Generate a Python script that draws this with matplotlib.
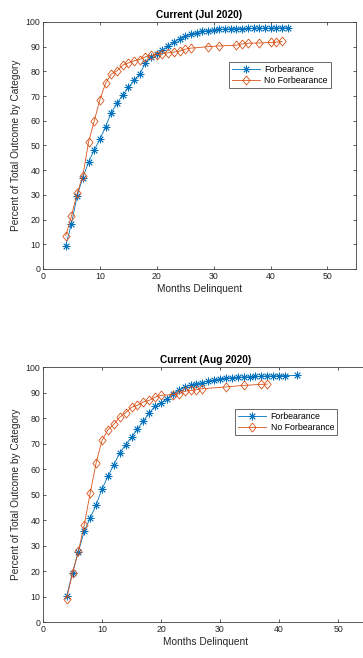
import matplotlib
matplotlib.use('Agg')
import matplotlib.pyplot as plt

plt.rcParams['font.family'] = ['Liberation Sans', 'DejaVu Sans']

# Jul 2020
jul_forb_x = list(range(4, 44))
jul_forb_y = [9.5, 18.3, 29.7, 37.0, 43.2, 48.2, 52.5, 57.6, 63.3, 67.0,
              70.4, 73.5, 76.4, 78.9, 83.4, 85.9, 87.2, 88.6, 90.2, 91.8,
              93.3, 94.2, 95.0, 95.7, 96.2, 96.5, 96.8, 97.0, 97.1, 97.2,
              97.3, 97.3, 97.4, 97.4, 97.5, 97.5, 97.5, 97.6, 97.6, 97.6]
jul_noforb_x = [4, 5, 6, 7, 8, 9, 10, 11, 12, 13, 14, 15, 16, 17, 18, 19, 20, 21,
                22, 23, 24, 25, 26, 29, 31, 34, 35, 36, 38, 40, 41, 42]
jul_noforb_y = [13.5, 21.5, 30.6, 37.8, 51.3, 59.9, 68.6, 75.1, 78.9, 80.2,
                82.5, 83.4, 84.3, 84.8, 85.9, 86.5, 86.8, 87.2, 87.5, 87.8,
                88.2, 89.0, 89.4, 90.0, 90.3, 90.6, 91.1, 91.4, 91.5, 91.7,
                91.8, 92.1]

# Aug 2020
aug_forb_x = list(range(4, 42)) + [43]
aug_forb_y = [10.1, 19.4, 27.6, 35.7, 40.8, 45.9, 52.2, 57.1, 61.7, 66.3,
              69.5, 72.5, 75.7, 78.8, 82.1, 84.6, 85.9, 87.6, 89.5, 90.8,
              92.2, 92.8, 93.2, 93.9, 94.4, 94.8, 95.4, 95.7, 95.8, 96.0,
              96.1, 96.2, 96.3, 96.4, 96.5, 96.5, 96.6, 96.6, 96.7]
aug_noforb_x = [4, 5, 6, 7, 8, 9, 10, 11, 12, 13, 14, 15, 16, 17, 18, 19, 20,
                22, 23, 24, 25, 26, 27, 31, 34, 37, 38]
aug_noforb_y = [9.2, 19.2, 27.8, 38.2, 50.7, 62.4, 71.2, 75.4, 77.5, 80.3,
                82.1, 84.2, 85.0, 86.3, 86.9, 88.2, 88.9, 89.2, 89.5, 90.5,
                90.8, 91.1, 91.5, 92.2, 92.8, 93.2, 93.3]

titles = ['Current (Jul 2020)', 'Current (Aug 2020)']
series_labels = ['Forbearance', 'No Forbearance']
blue = '#0072BD'
orange = '#D95319'
axis_color = '#404040'

# matlab-like diamond, a little taller than wide
diamond = [(0, 1), (0.8, 0), (0, -1), (-0.8, 0), (0, 1)]

fig = plt.figure(figsize=(3.63, 6.58), dpi=100)
ax_top = fig.add_axes([0.1185, 0.5912, 0.862, 0.3754])
ax_bot = fig.add_axes([0.1185, 0.0547, 0.894, 0.3875])

panels = [
    (ax_top, jul_forb_x, jul_forb_y, jul_noforb_x, jul_noforb_y, titles[0], (0.594, 0.838)),
    (ax_bot, aug_forb_x, aug_forb_y, aug_noforb_x, aug_noforb_y, titles[1], (0.592, 0.835)),
]

for ax, fx, fy, nx_, ny, title, leg_pos in panels:
    # matlab style asterisk marker
    ax.plot(fx, fy, color=blue, marker=(8, 2, 0), markersize=5.5, linewidth=0.6,
            markeredgewidth=0.6, label=series_labels[0])
    ax.plot(nx_, ny, color=orange, marker=diamond, markersize=6.5, linewidth=0.6,
            markerfacecolor='none', markeredgewidth=0.6, label=series_labels[1])
    ax.set_xlim(0, 55)
    ax.set_ylim(0, 100)
    ax.set_xticks(range(0, 51, 10))
    ax.set_yticks(range(0, 101, 10))
    ax.tick_params(direction='in', top=True, right=True, length=2.5, width=0.6,
                   labelsize=6.3, colors=axis_color, labelcolor='#262626', pad=2)
    for sp in ax.spines.values():
        sp.set_color(axis_color)
        sp.set_linewidth(0.6)
    ax.set_title(title, fontsize=7.3, fontweight='bold', pad=3)
    ax.set_xlabel('Months Delinquent', fontsize=7.3, color='#262626', labelpad=2)
    ax.set_ylabel('Percent of Total Outcome by Category', fontsize=7.3, color='#262626', labelpad=3)
    leg = ax.legend(loc='upper left', bbox_to_anchor=leg_pos, borderaxespad=0,
                    fontsize=6.3, frameon=True, fancybox=False, handlelength=3.2,
                    handletextpad=0.5, borderpad=0.35, labelspacing=0.25)
    leg.get_frame().set_edgecolor('#262626')
    leg.get_frame().set_linewidth(0.6)

fig.savefig('out.png', dpi=100)
